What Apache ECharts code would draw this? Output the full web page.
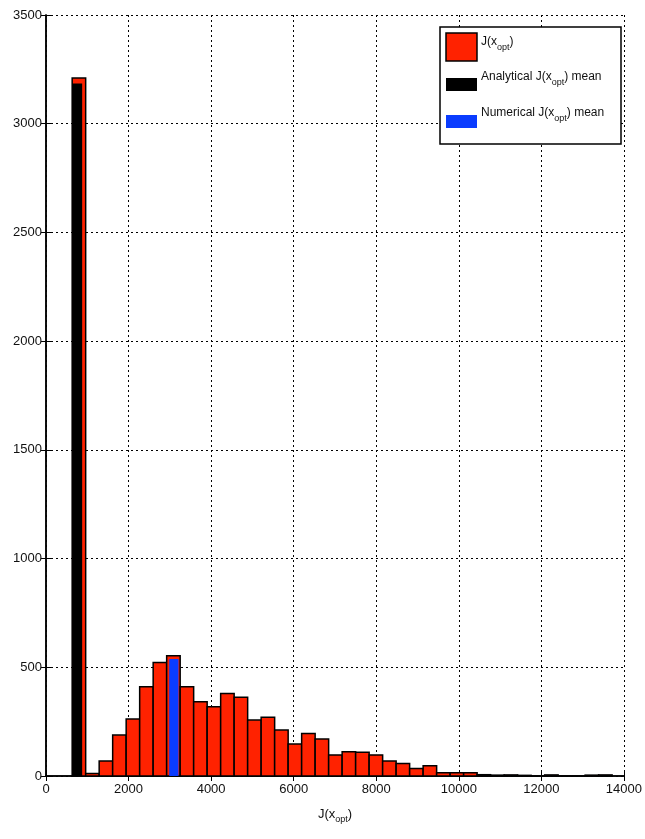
<!DOCTYPE html>
<html>
<head>
<meta charset="utf-8">
<script src="https://cdn.jsdelivr.net/npm/echarts@6/dist/echarts.min.js"></script>
<style>
html,body{margin:0;padding:0;background:#fff;}
#chart{width:645px;height:839px;}
</style>
</head>
<body>
<div id="chart"></div>
<script>
// ---- data ----
const binStart = 634;          // left edge of first histogram bin (J units)
const binWidth = 327;          // histogram bin width (J units)
const counts = [3210, 12, 69, 188, 262, 410, 522, 553, 410, 342,
                318, 380, 362, 257, 270, 211, 147, 196, 170, 97,
                112, 109, 97, 69, 58, 35, 47, 15, 15, 15,
                6, 4, 5, 3, 0, 5, 0, 0, 4, 5];
const analyticalMean = [634, 876, 3185];   // [from, to, height]
const numericalMean = [2985, 3210, 538];   // [from, to, height]
const xTicks = [0, 2000, 4000, 6000, 8000, 10000, 12000, 14000];
const yTicks = [0, 500, 1000, 1500, 2000, 2500, 3000, 3500];
const legendNames = ['J(x{sub|opt})', 'Analytical J(x{sub|opt}) mean', 'Numerical J(x{sub|opt}) mean'];

const FONT = '"Liberation Sans Narrow", "Liberation Sans", Arial, sans-serif';
const RED = '#ff2200', BLUE = '#0a3cff';

const histData = counts.map((c, i) => [binStart + i * binWidth, binStart + (i + 1) * binWidth, c]);

function rectItem(fill, stroke, lw) {
  return function (params, api) {
    const x0 = api.value(0), x1 = api.value(1), v = api.value(2);
    const p0 = api.coord([x0, v]);
    const p1 = api.coord([x1, 0]);
    return {
      type: 'rect',
      shape: { x: p0[0], y: p0[1], width: p1[0] - p0[0], height: p1[1] - p0[1] },
      style: { fill: fill, stroke: stroke, lineWidth: lw }
    };
  };
}

const chart = echarts.init(document.getElementById('chart'), null, { renderer: 'canvas' });
const gridLine = { show: true, lineStyle: { color: '#000', width: 1, type: [2, 3] } };
const label = { color: '#111', fontFamily: FONT, fontSize: 13, formatter: v => String(v) };

const sub = { fontSize: 9, padding: [11, 0, 0, 0], fontFamily: FONT, color: '#111' };

chart.setOption({
  animation: false,
  backgroundColor: '#fff',
  grid: { left: 46, right: 18, top: 15, bottom: 63 },
  xAxis: [{
    type: 'value', min: xTicks[0], max: xTicks[xTicks.length - 1], interval: xTicks[1] - xTicks[0],
    axisLine: { show: true, lineStyle: { color: '#000', width: 1.5 } },
    axisTick: { show: true, inside: true, length: 5, lineStyle: { color: '#000' } },
    axisLabel: Object.assign({ margin: 7 }, label),
    splitLine: gridLine,
    name: 'J(x{sub|opt})', nameLocation: 'middle', nameGap: 28,
    nameTextStyle: { fontFamily: FONT, fontSize: 13, color: '#111', rich: { sub: sub } }
  }, {
    type: 'value', position: 'top', min: xTicks[0], max: xTicks[xTicks.length - 1], interval: xTicks[1] - xTicks[0],
    axisLine: { show: true, lineStyle: { color: '#000', width: 1.5 } },
    axisTick: { show: true, inside: true, length: 5, lineStyle: { color: '#000' } },
    axisLabel: { show: false }, splitLine: { show: false }
  }],
  yAxis: [{
    type: 'value', min: yTicks[0], max: yTicks[yTicks.length - 1], interval: yTicks[1] - yTicks[0],
    axisLine: { show: true, lineStyle: { color: '#000', width: 1.5 } },
    axisTick: { show: true, inside: true, length: 5, lineStyle: { color: '#000' } },
    axisLabel: Object.assign({ margin: 4 }, label),
    splitLine: gridLine
  }, {
    type: 'value', position: 'right', min: yTicks[0], max: yTicks[yTicks.length - 1], interval: yTicks[1] - yTicks[0],
    axisLine: { show: true, lineStyle: { color: '#000', width: 1.5 } },
    axisTick: { show: true, inside: true, length: 5, lineStyle: { color: '#000' } },
    axisLabel: { show: false }, splitLine: { show: false }
  }],
  series: [{
    type: 'custom', name: 'hist', renderItem: rectItem(RED, '#000', 1.5),
    encode: { x: [0, 1], y: 2 }, data: histData, z: 3
  }, {
    type: 'custom', name: 'analytical', renderItem: rectItem('#000', null, 0),
    encode: { x: [0, 1], y: 2 }, data: [analyticalMean], z: 4
  }, {
    type: 'custom', name: 'numerical', renderItem: rectItem(BLUE, null, 0),
    encode: { x: [0, 1], y: 2 }, data: [numericalMean], z: 5
  }],
  graphic: [
    { type: 'rect', z: 100, shape: { x: 440, y: 27, width: 181, height: 117 }, style: { fill: '#fff', stroke: '#000', lineWidth: 1.5 } },
    { type: 'rect', z: 101, shape: { x: 446, y: 33, width: 31, height: 28 }, style: { fill: RED, stroke: '#000', lineWidth: 1.5 } },
    { type: 'rect', z: 101, shape: { x: 446, y: 78, width: 31, height: 13 }, style: { fill: '#000' } },
    { type: 'rect', z: 101, shape: { x: 446, y: 115, width: 31, height: 13 }, style: { fill: BLUE } },
    { type: 'text', z: 101, x: 481, y: 32, style: { text: legendNames[0], fontFamily: FONT, fontSize: 12, fill: '#111', rich: { sub: sub } } },
    { type: 'text', z: 101, x: 481, y: 67, style: { text: legendNames[1], fontFamily: FONT, fontSize: 12, fill: '#111', rich: { sub: sub } } },
    { type: 'text', z: 101, x: 481, y: 103, style: { text: legendNames[2], fontFamily: FONT, fontSize: 12, fill: '#111', rich: { sub: sub } } }
  ]
});
</script>
</body>
</html>
